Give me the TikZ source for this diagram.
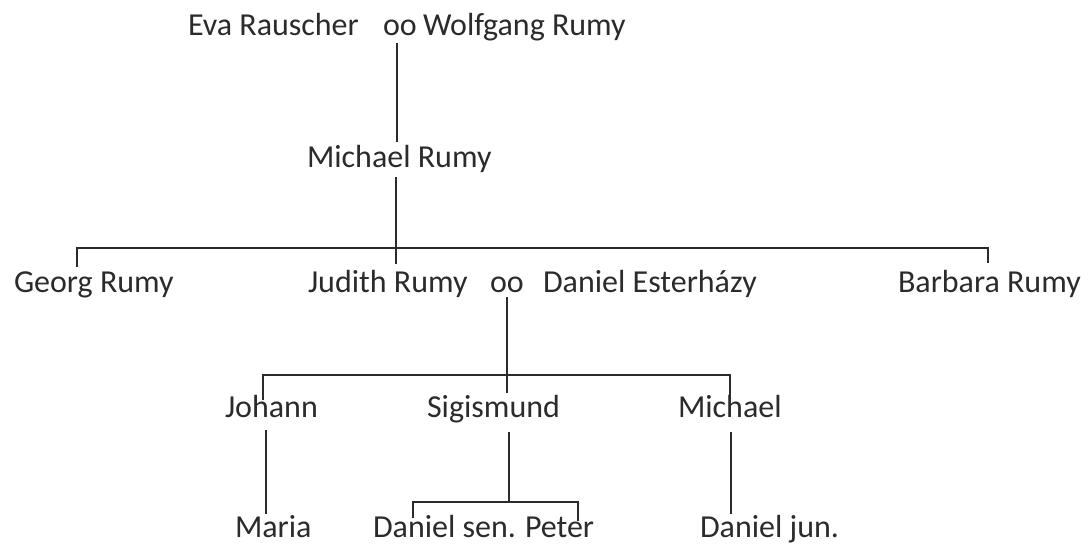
\documentclass[tikz,border=0pt]{standalone}
\usepackage{fontspec}
\setmainfont{Carlito}
\definecolor{ink}{HTML}{2B2B2B}
\begin{document}
\begin{tikzpicture}[x=1pt,y=-1pt,
  person/.style={anchor=base west, inner sep=0pt, outer sep=0pt, text=ink, font=\fontsize{32}{35}\selectfont},
  link/.style={draw=ink, line width=1.3pt}]
\useasboundingbox[fill=white] (0,0) rectangle (1091,544);
% generation 1
\node[person] (eva)  at (188,35) {Eva Rauscher};
\node[person] (oo1)  at (383,35) {oo};
\node[person] (wolf) at (423,35) {Wolfgang Rumy};
% generation 2
\node[person] (mr) at (307,167) {Michael Rumy};
% generation 3
\node[person] (georg)   at (14,292)  {Georg Rumy};
\node[person] (judith)  at (308,292) {Judith Rumy};
\node[person] (oo2)     at (490,292) {oo};
\node[person] (daniel)  at (543,292) {Daniel Esterházy};
\node[person] (barbara) at (898,292) {Barbara Rumy};
% generation 4
\node[person] (johann)  at (225,417) {Johann};
\node[person] (sigis)   at (427,417) {Sigismund};
\node[person] (michael) at (678,417) {Michael};
% generation 5
\node[person] (maria) at (235,537) {Maria};
\node[person] (dsen)  at (373,537) {Daniel sen.};
\node[person] (peter) at (525,537) {Peter};
\node[person] (djun)  at (700,537) {Daniel jun.};

% connector points
\coordinate (c1a) at (397,43);
\coordinate (c1b) at (397,142);
\coordinate (c2a) at (396,177);
\coordinate (c2b) at (396,264);
\coordinate (h1l) at (77,248);
\coordinate (h1r) at (988,248);
\coordinate (g1)  at (77,267);
\coordinate (b1)  at (988,263);
\coordinate (c3a) at (507,297);
\coordinate (c3b) at (507,393);
\coordinate (h2l) at (263,375);
\coordinate (h2r) at (730,375);
\coordinate (jo1) at (263,400);
\coordinate (mi1) at (730,400);
\coordinate (jo2) at (266,430);
\coordinate (ma1) at (266,514);
\coordinate (si2) at (509,432);
\coordinate (h3m) at (509,502);
\coordinate (h3l) at (413,502);
\coordinate (h3r) at (578,502);
\coordinate (ds1) at (413,518);
\coordinate (pe1) at (578,521);
\coordinate (mi2) at (731,432);
\coordinate (dj1) at (731,514);

\draw[link] (c1a) -- (c1b);
\draw[link] (c2a) -- (c2b);
\draw[link] (g1) -- (h1l) -- (h1r) -- (b1);
\draw[link] (c3a) -- (c3b);
\draw[link] (jo1) -- (h2l) -- (h2r) -- (mi1);
\draw[link] (jo2) -- (ma1);
\draw[link] (si2) -- (h3m);
\draw[link] (ds1) -- (h3l) -- (h3r) -- (pe1);
\draw[link] (mi2) -- (dj1);
\end{tikzpicture}
\end{document}
